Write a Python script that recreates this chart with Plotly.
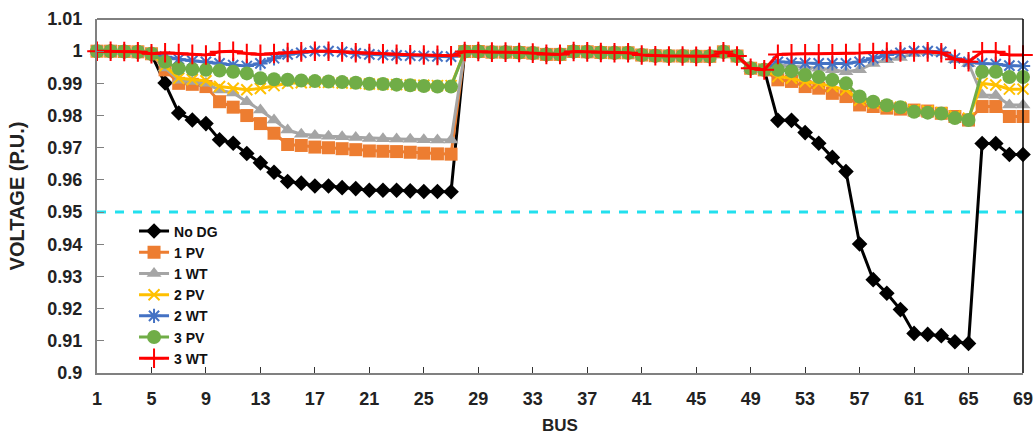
import plotly.graph_objects as go

bus = list(range(1, 70))
x_tick_values = list(range(1, 70, 4))
y_tick_values = [0.90, 0.91, 0.92, 0.93, 0.94, 0.95, 0.96, 0.97, 0.98, 0.99, 1.00, 1.01]
y_tick_labels = ["0.9", "0.91", "0.92", "0.93", "0.94", "0.95", "0.96", "0.97", "0.98", "0.99", "1", "1.01"]
voltage_limit = 0.95

no_dg = [1.0000, 1.0000, 0.9999, 0.9998, 0.9990, 0.9901, 0.9808, 0.9786, 0.9775, 0.9725,
         0.9714, 0.9682, 0.9653, 0.9624, 0.9595, 0.9590, 0.9581, 0.9581, 0.9576, 0.9573,
         0.9568, 0.9568, 0.9568, 0.9566, 0.9564, 0.9564, 0.9563,
         0.9999, 0.9999, 0.9997, 0.9997, 0.9996, 0.9994, 0.9990, 0.9990, 0.9999, 0.9998,
         0.9996, 0.9995, 0.9995, 0.9988, 0.9986, 0.9985, 0.9985, 0.9984, 0.9984, 0.9998,
         0.9985, 0.9947, 0.9942,
         0.9785, 0.9785, 0.9747, 0.9714, 0.9670, 0.9626, 0.9401, 0.9290, 0.9248, 0.9197,
         0.9123, 0.9120, 0.9116, 0.9097, 0.9092, 0.9713, 0.9713, 0.9679, 0.9679]

pv_1 = [1.0000, 1.0000, 0.9999, 0.9998, 0.9992,
        0.9942, 0.9900, 0.9897, 0.9890, 0.9843, 0.9826, 0.9800, 0.9775, 0.9745, 0.9710,
        0.9707, 0.9702, 0.9700, 0.9697, 0.9694, 0.9690, 0.9689, 0.9688, 0.9686, 0.9683,
        0.9681, 0.9680,
        0.9999, 0.9999, 0.9997, 0.9997, 0.9996, 0.9994, 0.9990, 0.9990, 0.9999, 0.9998,
        0.9996, 0.9995, 0.9995, 0.9988, 0.9986, 0.9985, 0.9985, 0.9984, 0.9984, 0.9998,
        0.9985, 0.9947, 0.9942,
        0.9911, 0.9906, 0.9890, 0.9885, 0.9869, 0.9859, 0.9833, 0.9828, 0.9823, 0.9820,
        0.9817, 0.9814, 0.9807, 0.9797, 0.9786, 0.9828, 0.9828, 0.9797, 0.9797]

wt_1 = [1.0000, 1.0000, 0.9999, 0.9998, 0.9992,
        0.9948, 0.9910, 0.9906, 0.9900, 0.9879, 0.9870, 0.9843, 0.9817, 0.9786, 0.9755,
        0.9742, 0.9738, 0.9736, 0.9734, 0.9732, 0.9729, 0.9728, 0.9727, 0.9726, 0.9725,
        0.9724, 0.9724,
        0.9999, 0.9999, 0.9997, 0.9997, 0.9996, 0.9994, 0.9990, 0.9990, 0.9999, 0.9998,
        0.9996, 0.9995, 0.9995, 0.9988, 0.9986, 0.9985, 0.9985, 0.9984, 0.9984, 0.9998,
        0.9985, 0.9947, 0.9942,
        0.9957, 0.9954, 0.9950, 0.9947, 0.9942, 0.9936, 0.9942, 0.9962, 0.9973, 0.9980,
        0.9993, 0.9998, 0.9995, 0.9973, 0.9962, 0.9864, 0.9862, 0.9833, 0.9833]

pv_2 = [1.0000, 1.0000, 0.9999, 0.9998, 0.9992,
        0.9955, 0.9916, 0.9912, 0.9908, 0.9890, 0.9885, 0.9880, 0.9884, 0.9893, 0.9900,
        0.9902, 0.9903, 0.9903, 0.9901, 0.9900, 0.9898, 0.9897, 0.9896, 0.9895, 0.9894,
        0.9893, 0.9893,
        0.9999, 0.9999, 0.9997, 0.9997, 0.9996, 0.9994, 0.9990, 0.9990, 0.9999, 0.9998,
        0.9996, 0.9995, 0.9995, 0.9988, 0.9986, 0.9985, 0.9985, 0.9984, 0.9984, 0.9998,
        0.9985, 0.9947, 0.9942,
        0.9921, 0.9916, 0.9905, 0.9900, 0.9890, 0.9880, 0.9848, 0.9838, 0.9830, 0.9826,
        0.9817, 0.9814, 0.9809, 0.9799, 0.9792, 0.9900, 0.9895, 0.9882, 0.9882]

wt_2 = [1.0000, 1.0000, 0.9999, 0.9998, 0.9992,
        0.9983, 0.9975, 0.9970, 0.9967, 0.9962, 0.9957, 0.9954, 0.9962, 0.9978, 0.9990,
        0.9995, 1.0000, 1.0000, 0.9998, 0.9993, 0.9990, 0.9988, 0.9987, 0.9986, 0.9985,
        0.9984, 0.9983,
        0.9999, 0.9999, 0.9997, 0.9997, 0.9996, 0.9994, 0.9990, 0.9990, 0.9999, 0.9998,
        0.9996, 0.9995, 0.9995, 0.9988, 0.9986, 0.9985, 0.9985, 0.9984, 0.9984, 0.9998,
        0.9985, 0.9947, 0.9942,
        0.9967, 0.9964, 0.9963, 0.9962, 0.9962, 0.9962, 0.9967, 0.9978, 0.9988, 0.9995,
        1.0000, 1.0000, 0.9998, 0.9978, 0.9967, 0.9962, 0.9960, 0.9955, 0.9954]

pv_3 = [1.0000, 1.0000, 0.9999, 0.9998, 0.9992,
        0.9967, 0.9947, 0.9944, 0.9942, 0.9940, 0.9936, 0.9931, 0.9916, 0.9913, 0.9911,
        0.9909, 0.9907, 0.9906, 0.9904, 0.9902, 0.9899, 0.9898, 0.9896, 0.9894, 0.9892,
        0.9890, 0.9890,
        0.9999, 0.9999, 0.9997, 0.9997, 0.9996, 0.9994, 0.9990, 0.9990, 0.9999, 0.9998,
        0.9996, 0.9995, 0.9995, 0.9988, 0.9986, 0.9985, 0.9985, 0.9984, 0.9984, 0.9998,
        0.9985, 0.9947, 0.9942,
        0.9942, 0.9938, 0.9926, 0.9920, 0.9911, 0.9900, 0.9859, 0.9843, 0.9832, 0.9826,
        0.9812, 0.9809, 0.9806, 0.9792, 0.9786, 0.9936, 0.9936, 0.9920, 0.9920]

wt_3 = [1.0000, 1.0000, 0.9999, 0.9998, 0.9992,
        0.9995, 0.9993, 0.9990, 0.9988, 0.9998, 1.0000, 0.9993, 0.9990, 0.9993, 0.9996,
        0.9998, 1.0000, 1.0000, 0.9998, 0.9995, 0.9993, 0.9992, 0.9990, 0.9989, 0.9988,
        0.9987, 0.9986,
        0.9999, 0.9999, 0.9997, 0.9997, 0.9996, 0.9994, 0.9990, 0.9990, 0.9999, 0.9998,
        0.9996, 0.9995, 0.9995, 0.9988, 0.9986, 0.9985, 0.9985, 0.9984, 0.9984, 0.9998,
        0.9985, 0.9947, 0.9942,
        0.9990, 0.9992, 0.9992, 0.9992, 0.9992, 0.9993, 0.9994, 0.9996, 0.9997, 0.9998,
        0.9998, 0.9998, 0.9995, 0.9975, 0.9967, 0.9998, 0.9998, 0.9988, 0.9988]

series_names = ["No DG", "1 PV", "1 WT", "2 PV", "2 WT", "3 PV", "3 WT"]
series_values = [no_dg, pv_1, wt_1, pv_2, wt_2, pv_3, wt_3]
series_colors = ["#000000", "#ED7D31", "#A5A5A5", "#FFC000", "#4472C4", "#70AD47", "#FF0000"]
series_symbols = ["diamond", "square", "triangle-up", "x-thin-open", "asterisk-open", "circle", "cross-thin-open"]
series_sizes = [12, 13, 13, 11, 12, 14, 14]

tick_font = dict(family="Liberation Sans, Arial", size=18, color="#222222", weight="bold")
narrow = "Liberation Sans Narrow, Arial Narrow, Liberation Sans, Arial"

fig = go.Figure()
for name, vals, col, sym, sz in zip(series_names, series_values, series_colors,
                                    series_symbols, series_sizes):
    open_sym = sym.endswith("open")
    fig.add_trace(go.Scatter(
        x=bus, y=vals, name=name, mode="lines+markers",
        line=dict(color=col, width=3),
        marker=dict(symbol=sym, size=sz, color=col,
                    line=dict(color=col, width=2 if open_sym else 0)),
        cliponaxis=False,
    ))

fig.add_hline(y=voltage_limit, line=dict(color="#22E0EE", width=3, dash="dash"), layer="below")

fig.update_layout(
    width=1034, height=435,
    margin=dict(l=97, r=11, t=19, b=62),
    plot_bgcolor="white", paper_bgcolor="white",
    showlegend=True,
    legend=dict(x=0.04, y=0.445, xanchor="left", yanchor="top",
                bgcolor="rgba(0,0,0,0)", tracegroupgap=0,
                font=dict(family="Liberation Sans, Arial", size=14, color="#111111", weight="bold")),
)
fig.update_xaxes(
    range=[1, 69], tickmode="array", tickvals=x_tick_values,
    ticks="inside", ticklen=6, tickcolor="#333333", automargin=False,
    showline=True, linecolor="#808080", linewidth=2, showgrid=False, zeroline=False,
    tickfont=tick_font, ticklabelstandoff=8,
    title=dict(text="BUS", font=dict(family=narrow, size=17, color="#222222", weight="bold"),
               standoff=12),
)
fig.update_yaxes(
    range=[0.90, 1.01], tickmode="array", tickvals=y_tick_values, ticktext=y_tick_labels,
    ticks="inside", ticklen=7, tickcolor="#808080", automargin=False,
    showline=True, linecolor="#808080", linewidth=2, showgrid=False, zeroline=False,
    tickfont=tick_font, ticklabelstandoff=9,
    title=dict(text="VOLTAGE (P.U.)", font=dict(family=narrow, size=20, color="#222222", weight="bold"),
               standoff=17),
)
# top and right frame lines
fig.add_shape(type="line", xref="paper", yref="paper", x0=0, x1=1, y0=1, y1=1,
              line=dict(color="#000000", width=1))
fig.add_shape(type="line", xref="paper", yref="paper", x0=1, x1=1, y0=0, y1=1,
              line=dict(color="#000000", width=1.5))

fig.write_html("out.html")
